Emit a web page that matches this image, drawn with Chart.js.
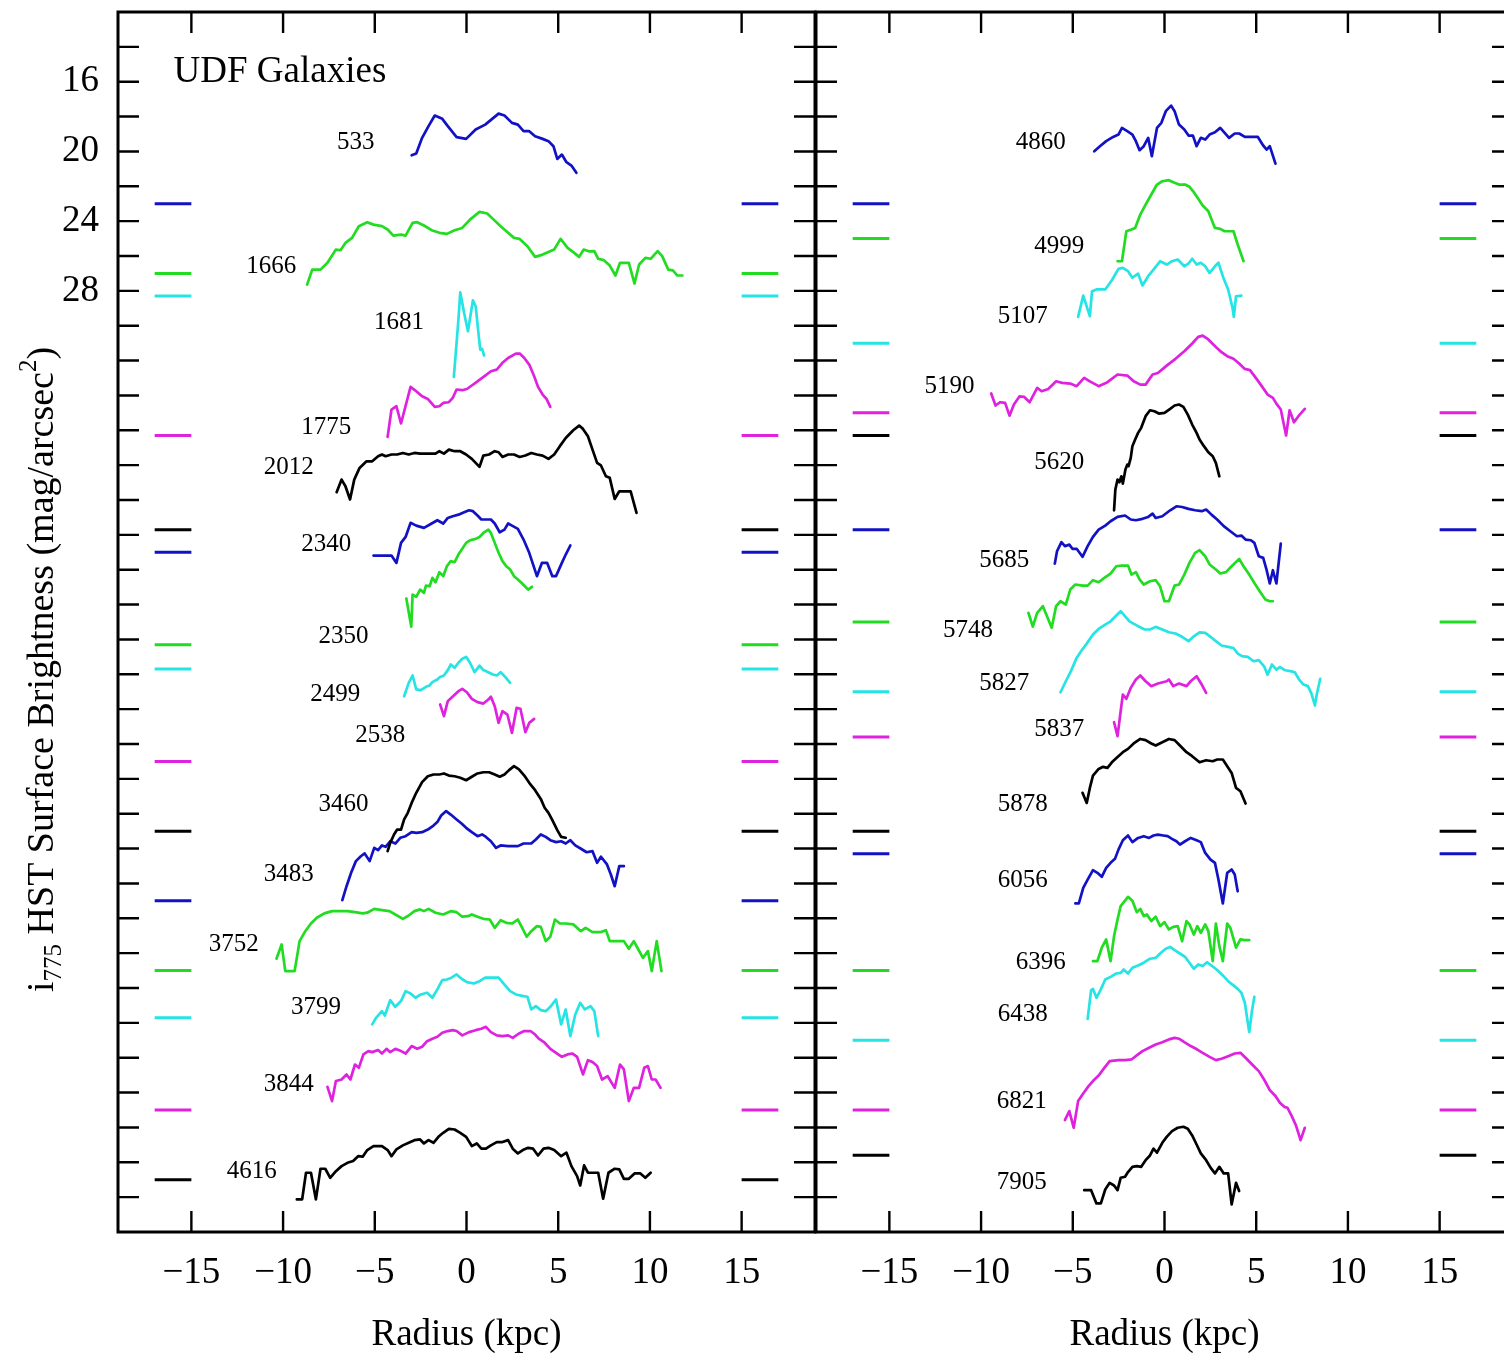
<!DOCTYPE html>
<html>
<head>
<meta charset="utf-8">
<title>UDF Galaxies – surface brightness profiles</title>
<script src="https://cdn.jsdelivr.net/npm/chart.js@4.4.1/dist/chart.umd.min.js"></script>
<style>
  html, body { margin: 0; padding: 0; background: #fff; overflow: hidden; }
  #wrap { position: relative; width: 1504px; height: 1353px; overflow: hidden; background: #fff; }
  #wrap canvas { position: absolute; top: 0; }
  #leftPanel { left: 0; }
  #rightPanel { left: 698px; }
</style>
</head>
<body>
<div id="wrap">
  <canvas id="leftPanel" width="830" height="1353"></canvas>
  <canvas id="rightPanel" width="830" height="1353"></canvas>
</div>
<script>
// ---------------------------------------------------------------
// Galaxy identifiers, one panel each (plotted top to bottom)
// ---------------------------------------------------------------
const LEFT_IDS  = ['533','1666','1681','1775','2012','2340','2350','2499','2538','3460','3483','3752','3799','3844','4616'];
const RIGHT_IDS = ['4860','4999','5107','5190','5620','5685','5748','5827','5837','5878','6056','6396','6438','6821','7905'];

// Reference level of each (offset) profile, mag/arcsec^2, same order as the ids
const LEFT_LEVELS  = [23.0, 27.0, 28.3, 36.3, 41.7, 43.0, 48.3, 49.7, 55.0, 59.0, 63.0, 67.0, 69.7, 75.0, 79.0];
const RIGHT_LEVELS = [23.0, 25.0, 31.0, 35.0, 36.3, 41.7, 47.0, 51.0, 53.6, 59.0, 60.3, 67.0, 71.0, 75.0, 77.6];

// Axis ticks
const X_TICKS = [-15, -10, -5, 0, 5, 10, 15];
const Y_TICKS = [14,16,18,20,22,24,26,28,30,32,34,36,38,40,42,44,46,48,50,52,54,56,58,60,62,64,66,68,70,72,74,76,78,80];
const Y_LABELS = [16, 20, 24, 28];

// ---------------------------------------------------------------
// Major-axis profiles: radius (kpc) and surface brightness (mag/arcsec^2)
// ---------------------------------------------------------------
const r533 = [-2.99,-2.74,-2.42,-2.07,-1.73,-1.32,-1.02,-0.54,-0.02,0.50,1.02,1.75,2.07,2.48,2.80,3.11,3.42,3.74,4.15,4.47,4.74,4.95,5.20,5.45,5.72,5.99];
const m533 = [20.22,20.12,19.22,18.55,17.94,18.13,18.55,19.18,19.28,18.74,18.46,17.83,17.94,18.36,18.46,18.84,18.84,19.13,19.28,19.41,19.70,20.43,20.18,20.62,20.81,21.23];

const r1666 = [-8.69,-8.41,-7.96,-7.58,-7.12,-6.87,-6.60,-6.24,-5.87,-5.41,-5.07,-4.61,-4.30,-3.99,-3.57,-3.32,-2.94,-2.69,-2.32,-1.90,-1.48,-1.07,-0.65,-0.23,0.19,0.71,1.13,1.44,1.86,2.27,2.59,2.90,3.32,3.74,4.15,4.78,5.13,5.51,5.82,6.14,6.39,6.70,6.97,7.18,7.49,7.81,8.12,8.37,8.85,9.16,9.41,9.75,10.04,10.42,10.67,11.00,11.25,11.50,11.77];
const m1666 = [27.64,26.78,26.78,26.39,25.63,25.67,25.25,24.96,24.29,24.06,24.20,24.29,24.48,24.83,24.77,24.83,24.10,24.06,24.25,24.52,24.67,24.73,24.52,24.39,23.91,23.47,23.56,23.87,24.29,24.67,24.96,25.02,25.44,26.05,25.92,25.63,25.02,25.53,25.78,26.05,25.63,25.74,25.72,26.16,26.24,26.55,27.12,26.39,26.39,27.58,26.49,26.11,26.16,25.72,26.01,26.78,26.82,27.12,27.12];

const r1681 = [-0.69,-0.44,-0.34,-0.13,0.08,0.35,0.50,0.65,0.75,0.85,0.96];
const m1681 = [32.94,29.65,28.08,29.27,30.32,28.54,28.88,30.41,31.37,31.33,31.71];

const r1775 = [-4.30,-4.09,-3.82,-3.57,-3.05,-2.74,-2.42,-2.11,-1.73,-1.48,-1.27,-0.96,-0.75,-0.54,-0.23,0.02,0.29,0.60,1.02,1.33,1.65,1.96,2.27,2.69,2.90,3.15,3.42,3.69,3.90,4.15,4.36,4.57];
const m1775 = [36.38,34.81,34.62,35.61,33.51,33.76,34.05,34.20,34.66,34.62,34.43,34.39,34.14,33.66,33.70,33.63,33.43,33.19,32.86,32.61,32.52,32.13,31.85,31.60,31.60,31.85,32.23,32.90,33.51,33.95,34.20,34.66];

const r2012 = [-7.08,-6.81,-6.60,-6.35,-6.12,-5.83,-5.45,-5.14,-4.82,-4.61,-4.41,-4.09,-3.78,-3.47,-3.15,-2.84,-2.53,-2.11,-1.69,-1.48,-1.23,-0.96,-0.65,-0.34,-0.02,0.29,0.71,0.92,1.23,1.54,1.75,1.96,2.27,2.59,2.90,3.21,3.53,3.84,4.15,4.47,4.78,5.09,5.41,5.82,6.14,6.35,6.62,6.87,7.12,7.33,7.60,7.81,8.08,8.33,8.64,8.95,9.27];
const m2012 = [39.55,38.83,39.21,39.97,38.83,38.16,37.78,37.78,37.49,37.39,37.49,37.39,37.39,37.30,37.39,37.30,37.34,37.34,37.34,37.20,37.34,37.11,37.20,37.20,37.39,37.64,38.10,37.45,37.39,37.20,37.26,37.53,37.39,37.39,37.53,37.45,37.30,37.39,37.45,37.64,37.39,36.91,36.44,36.00,35.73,35.92,36.34,37.11,37.87,38.02,38.64,38.73,39.94,39.50,39.50,39.50,40.74];

const r2340 = [-5.07,-4.09,-3.82,-3.57,-3.32,-3.05,-2.74,-2.32,-1.90,-1.59,-1.27,-1.02,-0.75,-0.44,-0.13,0.14,0.35,0.60,0.81,1.13,1.33,1.54,1.81,2.07,2.27,2.48,2.80,3.11,3.42,3.84,4.11,4.40,4.68,4.88,5.20,5.41,5.66];
const m2340 = [43.19,43.19,43.61,42.46,42.12,41.31,41.47,41.60,41.35,41.16,41.35,41.03,40.93,40.84,40.70,40.59,40.64,40.89,41.12,41.12,41.12,41.35,41.85,41.70,41.35,41.47,41.66,42.27,43.03,44.37,43.61,43.61,44.37,44.37,43.61,43.13,42.61];

const r2350 = [-3.28,-3.01,-2.94,-2.74,-2.53,-2.32,-2.21,-2.01,-1.86,-1.69,-1.48,-1.27,-1.07,-0.86,-0.65,-0.44,-0.23,-0.02,0.19,0.50,0.71,0.92,1.19,1.33,1.54,1.75,1.96,2.17,2.38,2.59,2.80,3.01,3.21,3.36,3.57];
const m2350 = [45.65,47.27,45.43,45.56,45.14,45.33,44.91,44.95,44.47,44.72,44.14,44.37,43.80,43.51,43.57,43.13,42.80,42.46,42.31,42.23,42.12,41.89,41.70,41.89,42.46,43.03,43.51,43.80,43.99,44.37,44.56,44.76,44.98,45.14,44.98];

const r2499 = [-3.40,-3.15,-2.94,-2.74,-2.49,-2.21,-2.01,-1.86,-1.59,-1.44,-1.23,-1.02,-0.86,-0.65,-0.44,-0.23,-0.02,0.19,0.44,0.71,0.92,1.19,1.44,1.65,1.86,2.11,2.38];
const m2499 = [51.26,50.49,50.07,50.87,50.91,50.72,50.64,50.45,50.30,50.15,50.07,49.76,49.44,49.63,49.34,49.11,49.00,49.34,49.88,49.50,49.76,49.88,50.01,50.07,49.88,50.15,50.49];

const r2538 = [-1.44,-1.23,-1.02,-0.69,-0.44,-0.23,0.02,0.29,0.60,0.92,1.19,1.33,1.54,1.75,1.96,2.23,2.48,2.73,2.94,3.21,3.42,3.69];
const m2538 = [51.73,52.40,51.54,51.22,50.97,50.84,51.03,51.41,51.60,51.68,51.45,51.29,51.83,52.79,52.12,52.31,53.36,51.93,51.98,53.32,52.79,52.56];

const r3460 = [-4.30,-4.16,-3.95,-3.78,-3.57,-3.40,-3.20,-2.99,-2.74,-2.42,-2.11,-1.80,-1.48,-1.23,-0.96,-0.65,-0.34,-0.02,0.29,0.60,0.92,1.23,1.54,1.81,2.07,2.32,2.59,2.86,3.15,3.42,3.74,4.05,4.26,4.47,4.68,4.95,5.16,5.41];
const m3460 = [60.15,59.67,59.19,58.91,58.91,58.33,57.95,57.38,56.80,56.19,55.85,55.75,55.75,55.69,55.81,55.85,55.94,56.08,55.88,55.69,55.62,55.62,55.75,55.88,55.75,55.50,55.27,55.46,55.81,56.23,56.65,57.15,57.66,57.95,58.37,58.94,59.33,59.38];

const r3483 = [-6.77,-6.54,-6.29,-6.03,-5.76,-5.55,-5.28,-5.03,-4.82,-4.61,-4.41,-4.16,-3.88,-3.61,-3.32,-2.99,-2.74,-2.42,-2.11,-1.80,-1.59,-1.38,-1.11,-0.86,-0.54,-0.27,-0.02,0.29,0.60,0.85,1.06,1.33,1.61,1.86,2.27,2.80,3.11,3.53,3.78,4.05,4.32,4.57,4.88,5.16,5.41,5.66,5.93,6.24,6.55,6.87,7.12,7.33,7.66,7.87,8.08,8.33,8.58];
const m3483 = [62.96,62.16,61.39,60.72,60.44,60.28,60.72,59.96,60.09,59.82,59.90,59.58,59.71,59.38,59.29,59.06,59.10,59.06,58.91,58.68,58.48,58.10,57.85,58.05,58.33,58.56,58.81,59.06,59.29,59.19,59.33,59.58,59.96,59.82,59.86,59.86,59.71,59.71,59.48,59.19,59.33,59.52,59.63,59.58,59.71,59.52,59.82,60.01,60.21,60.15,60.82,60.47,60.91,61.49,62.16,61.01,61.01];

const r3752 = [-10.36,-10.08,-9.88,-9.37,-9.10,-8.79,-8.48,-8.16,-7.75,-7.33,-6.91,-6.49,-6.08,-5.66,-5.41,-5.03,-4.61,-4.20,-3.88,-3.47,-3.15,-2.84,-2.53,-2.32,-2.07,-1.69,-1.27,-0.86,-0.54,-0.23,0.08,0.29,0.60,0.92,1.27,1.54,1.86,2.17,2.48,2.80,3.01,3.28,3.53,3.84,4.05,4.32,4.57,4.82,5.09,5.41,5.82,6.24,6.49,6.87,7.33,7.60,7.81,8.12,8.58,8.85,9.12,9.37,9.62,9.89,10.10,10.37,10.63];
const m3752 = [66.32,65.50,67.03,67.03,65.31,64.74,64.30,63.97,63.72,63.59,63.59,63.59,63.65,63.72,63.68,63.46,63.53,63.59,63.78,64.03,63.84,63.59,63.49,63.59,63.46,63.68,63.78,63.59,63.65,63.91,63.88,63.78,63.91,64.03,64.07,64.55,64.11,64.26,64.30,64.07,64.49,65.06,64.74,64.45,64.49,65.31,65.06,64.07,64.30,64.30,64.35,64.74,64.55,64.79,64.79,64.68,65.31,65.31,65.31,65.75,65.31,65.79,66.27,65.88,67.03,65.31,67.03];

const r3799 = [-5.14,-4.93,-4.61,-4.45,-4.16,-3.88,-3.57,-3.32,-3.05,-2.78,-2.49,-2.15,-1.86,-1.59,-1.32,-1.07,-0.82,-0.54,-0.27,0.02,0.40,0.71,1.02,1.33,1.75,2.07,2.38,2.69,3.11,3.32,3.53,3.78,4.05,4.32,4.57,4.88,5.16,5.41,5.66,5.93,6.20,6.45,6.76,6.97,7.18];
const m3799 = [70.09,69.71,69.33,69.58,68.70,69.08,68.75,68.18,68.31,68.56,68.37,68.27,68.56,68.08,67.55,67.51,67.41,67.22,67.47,67.66,67.74,67.61,67.41,67.41,67.41,67.80,68.18,68.37,68.47,68.50,69.23,69.04,69.27,69.33,69.08,68.66,70.09,69.23,70.76,69.52,68.85,69.23,69.04,69.33,70.76];

const r3844 = [-7.58,-7.33,-7.12,-6.81,-6.54,-6.33,-6.08,-5.87,-5.62,-5.35,-5.14,-4.82,-4.61,-4.36,-4.16,-3.88,-3.57,-3.32,-2.99,-2.69,-2.42,-2.15,-1.86,-1.59,-1.32,-1.02,-0.75,-0.54,-0.23,0.14,0.50,0.81,1.06,1.33,1.65,1.96,2.27,2.52,2.86,3.15,3.49,3.74,3.94,4.26,4.57,4.88,5.20,5.51,5.78,6.03,6.35,6.62,6.87,7.12,7.39,7.70,8.08,8.37,8.58,8.85,9.12,9.41,9.69,9.89,10.10,10.31,10.58];
const m3844 = [73.67,74.49,73.34,73.25,72.96,73.25,72.39,72.58,71.81,71.62,71.68,71.56,71.76,71.49,71.68,71.49,71.62,71.76,71.33,71.49,71.37,71.05,70.91,70.80,70.57,70.47,70.42,70.47,70.72,70.53,70.42,70.34,70.23,70.53,70.72,70.76,70.72,70.86,70.61,70.47,70.47,70.67,70.91,71.14,71.49,71.72,71.95,71.81,71.76,71.95,72.96,72.14,72.25,72.48,73.25,73.06,73.73,72.39,72.67,74.49,73.73,73.73,72.58,72.48,73.25,73.25,73.73];

const r4616 = [-9.25,-8.96,-8.75,-8.48,-8.21,-7.96,-7.70,-7.43,-7.12,-6.81,-6.49,-6.18,-5.91,-5.66,-5.41,-5.07,-4.61,-4.30,-4.09,-3.82,-3.47,-3.15,-2.84,-2.53,-2.32,-2.07,-1.80,-1.53,-1.27,-0.96,-0.65,-0.34,-0.02,0.29,0.56,0.81,1.06,1.33,1.65,1.96,2.27,2.52,2.80,3.07,3.36,3.63,3.90,4.20,4.47,4.78,5.16,5.45,5.72,6.03,6.20,6.41,6.62,6.87,7.18,7.45,7.74,8.08,8.33,8.58,8.85,9.16,9.48,9.75,10.04];
const m4616 = [80.13,80.13,78.60,78.60,80.13,78.37,78.37,78.89,78.51,78.22,78.03,77.93,77.65,77.68,77.30,77.07,77.07,77.30,77.65,77.26,77.03,76.88,76.73,76.69,76.92,76.73,76.88,76.54,76.31,76.08,76.12,76.31,76.54,77.07,76.92,77.22,77.22,77.03,76.84,76.84,76.73,77.22,77.49,77.30,77.17,77.22,77.61,77.22,77.17,77.30,77.65,77.45,78.22,78.79,79.33,78.18,78.60,78.60,78.60,80.09,78.60,78.37,78.41,78.95,78.95,78.64,78.64,78.89,78.60];

const r4860 = [-3.83,-3.52,-3.18,-2.80,-2.51,-2.32,-2.03,-1.75,-1.56,-1.36,-1.13,-0.89,-0.69,-0.41,-0.17,0.07,0.36,0.55,0.79,1.08,1.31,1.55,1.75,1.98,2.22,2.46,2.75,3.04,3.28,3.52,3.83,4.07,4.38,4.66,5.09,5.38,5.57,5.74,6.05];
const m4860 = [19.99,19.70,19.41,19.17,19.03,18.65,18.84,19.03,19.41,19.93,19.70,19.22,20.27,18.65,18.36,17.69,17.37,17.69,18.46,18.74,19.09,19.09,19.70,19.22,19.32,19.03,18.90,18.65,18.94,19.22,18.97,18.97,19.17,19.17,19.17,19.66,19.89,19.70,20.70];

const r4999 = [-2.56,-2.32,-2.08,-1.80,-1.60,-1.32,-1.03,-0.72,-0.41,-0.12,0.24,0.48,0.79,1.12,1.36,1.60,1.84,2.08,2.39,2.75,3.04,3.28,3.76,3.99,4.31];
const m4999 = [26.30,26.30,24.58,24.48,24.39,23.62,23.05,22.47,21.90,21.71,21.65,21.77,21.90,21.90,22.03,22.34,22.72,23.10,23.43,24.39,24.44,24.58,24.58,25.34,26.30];

const r5107 = [-4.71,-4.43,-4.07,-3.95,-3.71,-3.23,-2.87,-2.51,-2.27,-1.99,-1.75,-1.44,-1.20,-0.89,-0.60,-0.24,0.12,0.41,0.72,1.08,1.31,1.51,1.75,1.98,2.22,2.46,2.75,2.94,3.23,3.47,3.71,3.78,3.90,4.19];
const m5107 = [29.49,28.27,29.45,28.02,27.92,27.92,27.39,26.74,26.68,26.87,27.25,27.01,27.69,27.16,26.78,26.30,26.49,26.30,26.20,26.59,26.43,26.16,26.49,26.39,26.59,26.97,26.59,26.39,27.31,27.92,28.98,29.49,28.31,28.27];

const r5190 = [-9.45,-9.21,-8.97,-8.69,-8.45,-8.21,-7.90,-7.66,-7.35,-6.94,-6.70,-6.34,-5.91,-5.58,-5.14,-4.79,-4.38,-4.07,-3.59,-3.11,-2.56,-2.03,-1.68,-1.32,-1.03,-0.65,-0.36,0.12,0.60,1.08,1.51,1.84,2.08,2.39,2.80,3.11,3.42,3.76,4.07,4.38,4.66,5.02,5.33,5.62,5.91,6.10,6.34,6.63,6.82,7.06,7.30,7.65];
const m5190 = [33.89,34.58,34.39,34.43,35.16,34.52,34.05,34.08,34.39,33.57,33.76,33.63,33.19,33.28,33.32,33.47,32.99,33.19,33.47,33.24,32.80,32.86,33.19,33.38,33.38,32.80,32.71,32.29,31.90,31.46,31.02,30.64,30.57,30.79,31.22,31.52,31.75,31.90,32.17,32.48,32.55,33.05,33.51,33.95,34.14,34.47,34.81,36.30,34.85,35.54,35.19,34.77];

const r5620 = [-2.75,-2.68,-2.56,-2.46,-2.35,-2.27,-2.13,-2.03,-1.96,-1.84,-1.75,-1.60,-1.44,-1.27,-1.03,-0.79,-0.55,-0.31,0.00,0.31,0.55,0.79,1.03,1.27,1.51,1.75,1.91,2.15,2.39,2.63,2.80,2.99];
const m5620 = [40.59,39.40,38.83,38.98,38.64,39.06,38.25,37.97,38.06,37.58,36.91,36.53,36.15,35.86,35.19,34.85,34.91,35.04,35.00,34.77,34.58,34.52,34.66,35.10,35.67,36.15,36.53,36.91,37.26,37.49,37.87,38.64];

const r5685 = [-5.98,-5.86,-5.62,-5.43,-5.19,-5.02,-4.79,-4.47,-4.19,-3.90,-3.59,-3.23,-2.94,-2.56,-2.15,-1.84,-1.56,-1.20,-0.89,-0.65,-0.48,-0.12,0.31,0.65,0.96,1.31,1.67,2.03,2.27,2.56,2.87,3.23,3.59,3.95,4.19,4.42,4.71,4.90,5.14,5.38,5.57,5.74,5.91,6.10,6.34];
const m5685 = [43.65,42.94,42.42,42.65,42.56,42.80,42.80,43.26,42.65,42.12,41.70,41.47,41.22,40.97,40.89,41.12,41.16,41.08,40.97,40.78,41.03,40.93,40.59,40.36,40.40,40.51,40.59,40.64,40.55,40.84,41.12,41.50,41.79,42.08,42.04,42.27,42.31,42.46,43.23,43.32,44.03,44.79,44.03,44.79,42.50];

const r5748 = [-7.42,-7.18,-6.94,-6.63,-6.15,-5.91,-5.67,-5.38,-5.14,-4.86,-4.47,-4.19,-3.90,-3.59,-3.28,-2.94,-2.63,-2.32,-1.99,-1.80,-1.56,-1.36,-1.13,-0.79,-0.48,-0.24,0.00,0.24,0.55,0.79,1.08,1.36,1.67,1.91,2.22,2.46,2.80,3.04,3.35,3.66,4.07,4.31,4.62,4.90,5.19,5.50,5.74,5.91];
const m5748 = [46.47,47.27,46.47,46.09,47.33,46.09,45.81,46.00,45.14,44.85,44.91,44.91,44.60,44.72,44.47,44.22,43.80,43.76,43.76,44.28,44.14,44.56,44.85,44.66,44.60,44.95,45.81,45.81,44.91,44.85,44.28,43.61,43.03,42.88,43.23,43.70,43.99,44.22,44.14,43.80,43.38,43.80,44.28,44.76,45.23,45.71,45.81,45.81];

const r5827 = [-5.67,-5.38,-5.10,-4.79,-4.55,-4.24,-3.90,-3.59,-3.23,-2.94,-2.39,-1.91,-1.44,-1.08,-0.79,-0.48,-0.12,0.24,0.60,0.96,1.31,1.60,1.91,2.22,2.51,2.80,3.11,3.47,3.76,3.99,4.23,4.54,4.86,5.14,5.43,5.62,5.86,6.10,6.29,6.58,6.87,7.10,7.34,7.58,7.82,8.01,8.20,8.30,8.49];
const m5827 = [51.03,50.40,49.82,49.06,48.68,48.24,47.72,47.40,47.15,46.96,46.38,46.96,47.24,47.43,47.43,47.28,47.43,47.59,47.66,47.85,48.10,47.82,47.59,47.62,47.85,48.10,48.35,48.43,48.49,48.81,48.96,49.00,49.25,49.19,49.54,50.02,49.44,49.73,49.58,49.77,49.82,49.88,50.30,50.59,50.68,51.11,51.79,51.16,50.26];

const r5837 = [-2.75,-2.56,-2.39,-2.27,-2.08,-1.84,-1.56,-1.32,-1.03,-0.72,-0.36,0.12,0.24,0.48,0.79,1.20,1.43,1.75,2.03,2.27];
const m5837 = [52.75,53.55,52.12,51.16,51.41,50.78,50.30,50.07,50.40,50.68,50.53,50.40,50.30,50.68,50.53,50.68,50.40,50.11,50.59,51.07];

const r5878 = [-4.47,-4.24,-4.07,-3.90,-3.59,-3.35,-3.11,-2.87,-2.56,-2.27,-1.99,-1.68,-1.32,-1.03,-0.72,-0.48,-0.12,0.24,0.55,0.84,1.20,1.51,1.91,2.27,2.63,2.87,3.18,3.42,3.66,3.90,4.14,4.42];
const m5878 = [56.80,57.38,56.52,55.81,55.43,55.31,55.37,55.05,54.74,54.47,54.28,53.97,53.71,53.78,53.97,54.09,53.90,53.71,53.78,54.09,54.47,54.70,55.05,54.93,54.99,54.89,54.89,55.27,55.66,56.52,56.71,57.42];

const r6056 = [-4.86,-4.67,-4.43,-4.19,-3.90,-3.66,-3.42,-3.18,-2.94,-2.70,-2.51,-2.27,-1.99,-1.75,-1.44,-1.13,-0.84,-0.60,-0.36,-0.07,0.17,0.41,0.65,0.84,1.12,1.43,1.75,1.98,2.22,2.51,2.75,2.94,3.18,3.42,3.66,3.83,3.99];
const m6056 = [63.15,63.15,62.25,61.78,61.24,61.39,61.62,61.11,60.82,60.59,60.06,59.52,59.25,59.63,59.39,59.29,59.39,59.25,59.20,59.25,59.29,59.44,59.58,59.77,59.58,59.39,59.52,59.63,60.25,60.63,60.82,61.78,63.15,61.39,61.20,61.49,62.45];

const r6396 = [-3.90,-3.66,-3.42,-3.18,-2.94,-2.75,-2.56,-2.39,-1.99,-1.75,-1.51,-1.32,-1.13,-0.96,-0.72,-0.48,-0.24,0.00,0.24,0.48,0.72,0.96,1.20,1.36,1.60,1.79,1.98,2.22,2.39,2.63,2.80,2.99,3.18,3.42,3.59,3.90,4.14,4.38,4.62];
const m6396 = [66.46,66.46,65.69,65.21,66.46,65.02,64.07,63.30,62.77,63.00,63.65,63.46,63.88,63.78,64.16,63.91,64.45,64.22,64.64,64.49,64.45,65.31,64.16,64.35,64.93,64.45,64.83,64.35,64.74,66.46,64.30,65.60,66.46,64.30,64.55,65.69,65.21,65.25,65.25];

const r6438 = [-4.19,-4.00,-3.90,-3.71,-3.47,-3.23,-2.94,-2.63,-2.39,-2.23,-1.99,-1.75,-1.44,-1.13,-0.79,-0.48,-0.24,0.07,0.31,0.55,0.84,1.12,1.36,1.60,1.84,2.08,2.32,2.56,2.87,3.18,3.47,3.76,3.99,4.19,4.38,4.62,4.78,4.90];
const m6438 = [69.77,68.12,68.05,68.56,68.08,67.51,67.36,67.17,67.13,66.94,67.17,66.84,66.71,66.55,66.32,66.27,66.02,65.75,65.64,65.83,66.02,66.21,66.55,66.90,66.65,66.74,66.52,66.71,66.97,67.28,67.61,67.85,68.05,68.27,68.85,70.53,69.23,68.50];

const r6821 = [-5.43,-5.19,-4.95,-4.71,-4.43,-4.14,-3.90,-3.59,-3.28,-2.99,-2.51,-2.15,-1.80,-1.51,-1.20,-0.84,-0.48,-0.12,0.24,0.55,0.79,1.08,1.43,1.79,2.08,2.46,2.80,3.11,3.47,3.83,4.14,4.42,4.78,5.14,5.43,5.74,6.05,6.29,6.53,6.70,6.94,7.18,7.42,7.65];
const m6821 = [75.58,75.06,76.02,74.49,74.05,73.63,73.34,73.02,72.58,72.20,72.14,72.14,72.10,71.87,71.62,71.43,71.24,71.11,70.95,70.86,70.91,71.11,71.33,71.53,71.72,71.95,72.14,72.06,71.91,71.76,71.72,72.00,72.39,72.77,73.25,73.86,74.20,74.59,74.82,74.87,75.35,75.92,76.73,76.02];

const r7905 = [-4.38,-4.00,-3.71,-3.47,-3.23,-2.99,-2.75,-2.56,-2.39,-2.15,-1.99,-1.75,-1.51,-1.27,-1.03,-0.79,-0.60,-0.41,-0.12,0.12,0.41,0.72,1.03,1.27,1.51,1.75,1.98,2.27,2.51,2.75,2.99,3.23,3.47,3.66,3.90,4.07];
const m7905 = [79.60,79.60,80.36,80.36,79.56,79.18,79.33,79.60,78.89,78.83,78.56,78.26,78.22,78.26,77.88,77.61,77.22,77.45,76.88,76.54,76.21,76.02,75.96,76.08,76.46,76.98,77.49,77.88,78.31,78.64,78.26,78.64,78.64,80.42,79.18,79.65];

// Where each galaxy number is written (kpc, mag/arcsec^2), same order as the ids
const LEFT_LABEL_R  = [-6.04,-10.65,-3.68,-7.64,-9.69,-7.64,-6.70,-7.16,-4.70,-6.70,-9.69,-12.69,-8.21,-9.69,-11.71];
const LEFT_LABEL_M  = [19.51,26.59,29.83,35.86,38.15,42.55,47.81,51.16,53.51,57.47,61.49,65.50,69.13,73.53,78.51];
const RIGHT_LABEL_R = [-6.75,-5.74,-7.73,-11.72,-5.74,-8.73,-10.71,-8.73,-5.74,-7.73,-7.73,-6.74,-7.73,-7.78,-7.78];
const RIGHT_LABEL_M = [19.51,25.47,29.46,33.51,37.87,43.45,47.47,50.53,53.17,57.47,61.81,66.52,69.52,74.49,79.17];

// ---------------------------------------------------------------
// Lookup table and styling
// ---------------------------------------------------------------
const PROFILES = {
  '533': [r533, m533], '1666': [r1666, m1666], '1681': [r1681, m1681], '1775': [r1775, m1775],
  '2012': [r2012, m2012], '2340': [r2340, m2340], '2350': [r2350, m2350], '2499': [r2499, m2499],
  '2538': [r2538, m2538], '3460': [r3460, m3460], '3483': [r3483, m3483], '3752': [r3752, m3752],
  '3799': [r3799, m3799], '3844': [r3844, m3844], '4616': [r4616, m4616],
  '4860': [r4860, m4860], '4999': [r4999, m4999], '5107': [r5107, m5107], '5190': [r5190, m5190],
  '5620': [r5620, m5620], '5685': [r5685, m5685], '5748': [r5748, m5748], '5827': [r5827, m5827],
  '5837': [r5837, m5837], '5878': [r5878, m5878], '6056': [r6056, m6056], '6396': [r6396, m6396],
  '6438': [r6438, m6438], '6821': [r6821, m6821], '7905': [r7905, m7905]
};

const PALETTE = ['#1212c4', '#22dc22', '#26e4e4', '#de22de', '#000000'];
const SERIF = '"Liberation Serif", "Times New Roman", Times, serif';

Chart.defaults.color = '#000';
Chart.defaults.font.family = SERIF;

function buildDatasets(ids, levels) {
  const out = [];
  ids.forEach((id, i) => {
    const color = PALETTE[i % PALETTE.length];
    const [rs, ms] = PROFILES[id];
    const n = Math.min(rs.length, ms.length);
    const pts = [];
    for (let k = 0; k < n; k++) pts.push({ x: rs[k], y: ms[k] });
    out.push({
      label: id, data: pts, borderColor: color, backgroundColor: color,
      borderWidth: 2.7, pointRadius: 0, showLine: true, tension: 0,
      borderJoinStyle: 'round', borderCapStyle: 'round', fill: false
    });
    // short level marks at both sides of the panel
    const lv = levels[i];
    out.push({
      label: id + ' level',
      data: [{ x: -17, y: lv }, { x: -15, y: lv }, { x: 0, y: null }, { x: 15, y: lv }, { x: 17, y: lv }],
      borderColor: color, backgroundColor: color, borderWidth: 3,
      pointRadius: 0, showLine: true, spanGaps: false, fill: false
    });
  });
  return out;
}

function fmtTick(v) {
  return v < 0 ? '\u2212' + Math.abs(v) : String(v);
}

// Frame, inward ticks, galaxy numbers and axis titles
const panelDecor = {
  id: 'panelDecor',
  afterDraw(chart, args, opts) {
    const { ctx, chartArea: a } = chart;
    const xs = chart.scales.x, ys = chart.scales.y;
    ctx.save();

    // inward tick marks on all four sides
    ctx.strokeStyle = '#000';
    ctx.lineWidth = 2.4;
    ctx.beginPath();
    Y_TICKS.forEach(v => {
      const py = ys.getPixelForValue(v);
      ctx.moveTo(a.left, py); ctx.lineTo(a.left + 21, py);
      ctx.moveTo(a.right, py); ctx.lineTo(a.right - 21, py);
    });
    X_TICKS.forEach(v => {
      const px = xs.getPixelForValue(v);
      ctx.moveTo(px, a.top); ctx.lineTo(px, a.top + 21);
      ctx.moveTo(px, a.bottom); ctx.lineTo(px, a.bottom - 21);
    });
    ctx.stroke();

    // panel frame
    ctx.lineWidth = 3;
    ctx.strokeRect(a.left, a.top, a.right - a.left, a.bottom - a.top);

    // galaxy numbers
    ctx.fillStyle = '#000';
    ctx.font = '25px ' + SERIF;
    ctx.textAlign = 'center';
    ctx.textBaseline = 'middle';
    opts.ids.forEach((id, i) => {
      ctx.fillText(id, xs.getPixelForValue(opts.labelR[i]), ys.getPixelForValue(opts.labelM[i]));
    });

    // x-axis title, centred on r = 0
    ctx.font = '37px ' + SERIF;
    ctx.textBaseline = 'alphabetic';
    ctx.fillText('Radius (kpc)', xs.getPixelForValue(0), a.bottom + 113);

    if (opts.primary) {
      // panel caption
      ctx.textAlign = 'left';
      ctx.font = '37px ' + SERIF;
      ctx.fillText('UDF Galaxies', xs.getPixelForValue(-15.97), ys.getPixelForValue(16.03));

      // rotated y-axis title with sub/superscripts
      ctx.save();
      ctx.translate(53, 992);
      ctx.rotate(-Math.PI / 2);
      ctx.textAlign = 'left';
      ctx.textBaseline = 'alphabetic';
      const big = '38px ' + SERIF, small = '25px ' + SERIF;
      let x = 0;
      const part = (txt, font, dy) => {
        ctx.font = font;
        ctx.fillText(txt, x, dy);
        x += ctx.measureText(txt).width;
      };
      part('i', big, 0);
      part('775', small, 8);
      part(' HST Surface Brightness (mag/arcsec', big, 0);
      part('2', small, -17);
      part(')', big, 0);
      ctx.restore();
    }
    ctx.restore();
  }
};

function makePanel(canvasId, ids, levels, labelR, labelM, primary) {
  return new Chart(document.getElementById(canvasId), {
    type: 'scatter',
    data: { datasets: buildDatasets(ids, levels) },
    options: {
      responsive: false,
      animation: false,
      devicePixelRatio: 1,
      layout: { padding: { top: 12, right: 15, bottom: 0, left: 0 } },
      plugins: {
        legend: { display: false },
        tooltip: { enabled: false },
        panelDecor: { ids, labelR, labelM, primary }
      },
      scales: {
        x: {
          type: 'linear', min: -19, max: 19,
          grid: { display: false, drawTicks: false },
          border: { display: false },
          afterBuildTicks: s => { s.ticks = X_TICKS.map(v => ({ value: v })); },
          afterFit: s => { s.height = 121; s.paddingLeft = 0; s.paddingRight = 0; },
          ticks: {
            autoSkip: false, maxRotation: 0, minRotation: 0, padding: 19,
            color: '#000', font: { family: SERIF, size: 37 },
            callback: v => fmtTick(v)
          }
        },
        y: {
          type: 'linear', reverse: true, min: 12, max: 82,
          grid: { display: false, drawTicks: false },
          border: { display: false },
          afterBuildTicks: s => { s.ticks = Y_TICKS.map(v => ({ value: v })); },
          afterFit: s => { s.width = 118; s.paddingTop = 0; s.paddingBottom = 0; },
          ticks: {
            display: primary, autoSkip: false, padding: 19,
            color: '#000', font: { family: SERIF, size: 37 },
            callback: v => (Y_LABELS.includes(v) ? String(v) : '')
          }
        }
      }
    },
    plugins: [panelDecor]
  });
}

makePanel('leftPanel', LEFT_IDS, LEFT_LEVELS, LEFT_LABEL_R, LEFT_LABEL_M, true);
makePanel('rightPanel', RIGHT_IDS, RIGHT_LEVELS, RIGHT_LABEL_R, RIGHT_LABEL_M, false);
</script>
</body>
</html>
